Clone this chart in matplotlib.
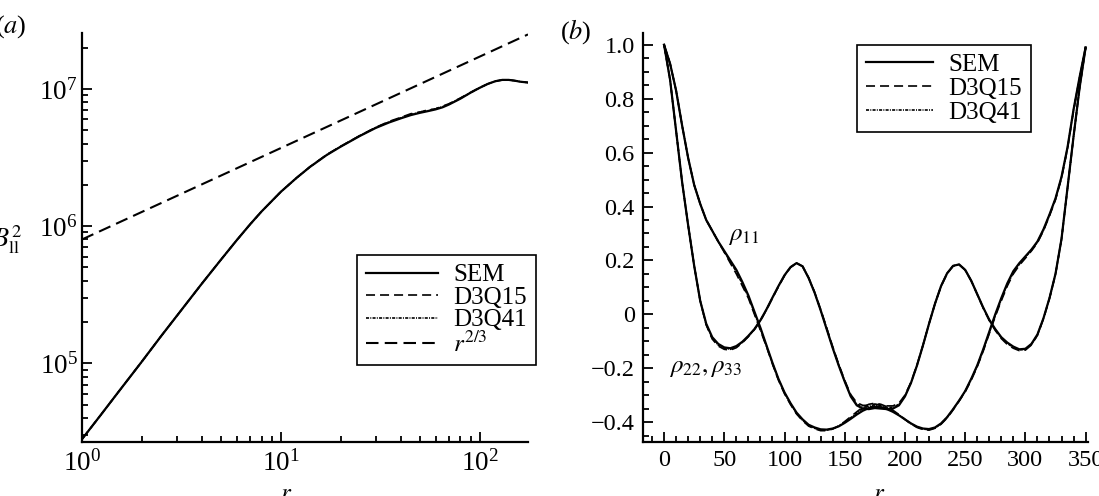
import matplotlib
matplotlib.use("Agg")
import matplotlib.pyplot as plt
from matplotlib.ticker import MultipleLocator, FixedLocator, FixedFormatter, NullFormatter, LogLocator

plt.rcParams['font.family'] = ['Liberation Serif', 'DejaVu Serif']
plt.rcParams['mathtext.fontset'] = 'stix'
plt.rcParams['lines.scale_dashes'] = False

# ---- panel (a): second-order structure function ----
r_a = [1, 1.25, 1.5, 2, 2.5, 3, 4, 5, 6, 7, 8, 10, 12, 14, 17, 20, 25, 30, 35, 40,
       45, 50, 55, 60, 65, 70, 80, 90, 100, 110, 120, 130, 140, 150, 160, 175]
sem_a = [2.8e4, 4.25e4, 6.0e4, 1.03e5, 1.58e5, 2.22e5, 3.8e5, 5.7e5, 7.9e5, 1.03e6,
         1.28e6, 1.78e6, 2.25e6, 2.7e6, 3.3e6, 3.8e6, 4.55e6, 5.2e6, 5.7e6, 6.1e6,
         6.45e6, 6.7e6, 6.9e6, 7.1e6, 7.35e6, 7.7e6, 8.5e6, 9.4e6, 1.02e7, 1.09e7,
         1.14e7, 1.165e7, 1.165e7, 1.15e7, 1.13e7, 1.115e7]
q15_a = [2.8e4, 4.25e4, 6.0e4, 1.03e5, 1.58e5, 2.22e5, 3.8e5, 5.7e5, 7.9e5, 1.03e6,
         1.28e6, 1.78e6, 2.25e6, 2.71e6, 3.32e6, 3.82e6, 4.58e6, 5.25e6, 5.8e6, 6.2e6,
         6.6e6, 6.78e6, 7.05e6, 7.15e6, 7.5e6, 7.8e6, 8.6e6, 9.45e6, 1.025e7, 1.09e7,
         1.14e7, 1.165e7, 1.165e7, 1.15e7, 1.13e7, 1.115e7]
q41_a = [2.8e4, 4.25e4, 6.0e4, 1.03e5, 1.58e5, 2.22e5, 3.8e5, 5.7e5, 7.9e5, 1.03e6,
         1.28e6, 1.78e6, 2.25e6, 2.7e6, 3.31e6, 3.81e6, 4.57e6, 5.23e6, 5.75e6, 6.15e6,
         6.5e6, 6.8e6, 6.95e6, 7.2e6, 7.42e6, 7.75e6, 8.55e6, 9.4e6, 1.02e7, 1.09e7,
         1.14e7, 1.165e7, 1.165e7, 1.15e7, 1.13e7, 1.115e7]
r_fit = [1, 175]
fit_a = [8.0e5, 2.5e7]

# ---- panel (b): correlation coefficients ----
r_b = list(range(0, 351, 5))
rho11_sem = [1.000, 0.93, 0.83, 0.70, 0.58, 0.48, 0.41, 0.35, 0.31, 0.27,
             0.235, 0.20, 0.165, 0.12, 0.07, 0.01, -0.05, -0.115, -0.18, -0.24,
             -0.29, -0.33, -0.365, -0.39, -0.41, -0.42, -0.427, -0.428, -0.424, -0.416,
             -0.403, -0.388, -0.372, -0.358, -0.348, -0.343, -0.345, -0.352, -0.362, -0.375,
             -0.39, -0.405, -0.417, -0.424, -0.426, -0.42, -0.405, -0.382, -0.352, -0.32,
             -0.285, -0.24, -0.19, -0.13, -0.065, 0.0, 0.06, 0.115, 0.16, 0.19,
             0.215, 0.24, 0.27, 0.315, 0.37, 0.43, 0.51, 0.62, 0.76, 0.88,
             0.99]
rho11_q15 = [1.000, 0.93, 0.83, 0.70, 0.58, 0.48, 0.41, 0.35, 0.31, 0.27,
             0.23, 0.19, 0.15, 0.105, 0.06, 0.0, -0.06, -0.12, -0.185, -0.245,
             -0.295, -0.335, -0.37, -0.395, -0.415, -0.425, -0.432, -0.432, -0.426, -0.414,
             -0.398, -0.38, -0.362, -0.345, -0.334, -0.33, -0.334, -0.343, -0.356, -0.372,
             -0.39, -0.407, -0.42, -0.428, -0.43, -0.423, -0.408, -0.385, -0.355, -0.322,
             -0.288, -0.245, -0.195, -0.137, -0.072, -0.008, 0.05, 0.105, 0.15, 0.182,
             0.208, 0.235, 0.265, 0.31, 0.365, 0.425, 0.505, 0.615, 0.755, 0.875,
             0.99]
rho11_q41 = [1.000, 0.93, 0.83, 0.70, 0.58, 0.48, 0.41, 0.35, 0.31, 0.27,
             0.232, 0.195, 0.158, 0.112, 0.065, 0.005, -0.055, -0.118, -0.182, -0.242,
             -0.292, -0.332, -0.368, -0.393, -0.413, -0.423, -0.43, -0.43, -0.425, -0.415,
             -0.4, -0.384, -0.366, -0.35, -0.34, -0.336, -0.34, -0.348, -0.36, -0.374,
             -0.39, -0.406, -0.418, -0.426, -0.428, -0.422, -0.406, -0.383, -0.353, -0.321,
             -0.286, -0.242, -0.192, -0.133, -0.068, -0.004, 0.055, 0.11, 0.155, 0.186,
             0.212, 0.238, 0.268, 0.312, 0.368, 0.428, 0.508, 0.618, 0.758, 0.878,
             0.99]
rho22_sem = [1.0, 0.87, 0.68, 0.49, 0.33, 0.18, 0.05, -0.035, -0.085, -0.11,
             -0.123, -0.126, -0.118, -0.102, -0.08, -0.055, -0.022, 0.018, 0.062, 0.105,
             0.145, 0.175, 0.19, 0.178, 0.135, 0.08, 0.015, -0.055, -0.125, -0.19,
             -0.25, -0.305, -0.338, -0.35, -0.352, -0.348, -0.35, -0.352, -0.35, -0.338,
             -0.305, -0.255, -0.19, -0.115, -0.035, 0.04, 0.105, 0.152, 0.18, 0.185,
             0.165, 0.125, 0.075, 0.025, -0.02, -0.055, -0.085, -0.105, -0.12, -0.13,
             -0.128, -0.11, -0.075, -0.015, 0.06, 0.15, 0.28, 0.47, 0.66, 0.84,
             0.99]
rho22_q15 = [1.0, 0.87, 0.68, 0.49, 0.33, 0.18, 0.05, -0.04, -0.092, -0.118,
             -0.13, -0.133, -0.124, -0.106, -0.083, -0.057, -0.024, 0.016, 0.06, 0.103,
             0.143, 0.174, 0.19, 0.178, 0.136, 0.082, 0.018, -0.05, -0.12, -0.185,
             -0.245, -0.298, -0.328, -0.338, -0.338, -0.333, -0.337, -0.34, -0.34, -0.33,
             -0.3, -0.252, -0.188, -0.114, -0.035, 0.04, 0.104, 0.151, 0.179, 0.184,
             0.164, 0.124, 0.074, 0.023, -0.023, -0.06, -0.09, -0.112, -0.126, -0.135,
             -0.133, -0.114, -0.078, -0.017, 0.058, 0.148, 0.278, 0.468, 0.658, 0.84,
             0.99]
rho22_q41 = [1.0, 0.87, 0.68, 0.49, 0.33, 0.18, 0.05, -0.038, -0.089, -0.115,
             -0.127, -0.13, -0.121, -0.104, -0.082, -0.056, -0.023, 0.017, 0.061, 0.104,
             0.144, 0.175, 0.19, 0.178, 0.135, 0.081, 0.016, -0.053, -0.123, -0.188,
             -0.248, -0.302, -0.333, -0.344, -0.345, -0.34, -0.343, -0.346, -0.345, -0.334,
             -0.303, -0.254, -0.19, -0.115, -0.035, 0.04, 0.105, 0.152, 0.18, 0.185,
             0.165, 0.125, 0.075, 0.024, -0.021, -0.057, -0.087, -0.108, -0.123, -0.132,
             -0.13, -0.112, -0.077, -0.016, 0.059, 0.149, 0.279, 0.469, 0.659, 0.84,
             0.99]

yticks_b = [1.0, 0.8, 0.6, 0.4, 0.2, 0, -0.2, -0.4]
yticklabels_b = ["1.0", "0.8", "0.6", "0.4", "0.2", "0", "\u22120.2", "\u22120.4"]
xticks_b = [0, 50, 100, 150, 200, 250, 300, 350]

W, H = 1099, 496
fig = plt.figure(figsize=(W / 100, H / 100), dpi=100)
ax1 = fig.add_axes([82 / W, 1 - 442 / H, 446 / W, 409 / H])
ax2 = fig.add_axes([643 / W, 1 - 442 / H, 445 / W, 409 / H])

fs = 18
dash15 = (0, (6.5, 3.6))
dash41 = (0, (2.2, 0.9, 0.7, 0.9))
dashfit = (0, (9, 4.5))

def style(ax, size):
    for s in ["top", "right"]:
        ax.spines[s].set_visible(False)
    for s in ["left", "bottom"]:
        ax.spines[s].set_linewidth(1.6)
    ax.tick_params(which="both", direction="in", labelsize=size, width=1.3,
                   top=False, right=False)
    ax.tick_params(which="major", length=7, pad=6)
    ax.tick_params(which="minor", length=4)

# panel (a)
ax1.plot(r_a, sem_a, color="k", lw=1.6, label="SEM")
ax1.plot(r_a, q15_a, color="k", lw=1.2, linestyle=dash15, label="D3Q15")
ax1.plot(r_a, q41_a, color="k", lw=1.2, linestyle=dash41, label="D3Q41")
ax1.plot(r_fit, fit_a, color="k", lw=1.5, linestyle=dashfit, label="$r^{2/3}$")
ax1.set_xscale("log")
ax1.set_yscale("log")
ax1.set_xlim(1, 175)
ax1.set_ylim(2.67e4, 2.56e7)
ax1.yaxis.set_minor_locator(LogLocator(base=10, subs=range(2, 10)))
ax1.xaxis.set_minor_formatter(NullFormatter())
ax1.yaxis.set_minor_formatter(NullFormatter())
style(ax1, 19.5)
ax1.tick_params(axis="y", which="major", pad=3)
ax1.set_xlabel("$r$", fontsize=fs)
ax1.xaxis.set_label_coords(0.457, -0.1)
leg1 = ax1.legend(loc="upper left", bbox_to_anchor=(0.617, 0.457), fontsize=fs,
                  frameon=True, fancybox=False, edgecolor="k", framealpha=1,
                  handlelength=2.9, handletextpad=0.6, labelspacing=0.0,
                  borderpad=0.35, borderaxespad=0)
leg1.get_frame().set_linewidth(1.2)
leg1.set_clip_on(False)

# panel (b)
ax2.plot(r_b, rho11_sem, color="k", lw=1.6, label="SEM")
ax2.plot(r_b, rho11_q15, color="k", lw=1.2, linestyle=dash15, label="D3Q15")
ax2.plot(r_b, rho11_q41, color="k", lw=1.2, linestyle=dash41, label="D3Q41")
ax2.plot(r_b, rho22_sem, color="k", lw=1.6)
ax2.plot(r_b, rho22_q15, color="k", lw=1.2, linestyle=dash15)
ax2.plot(r_b, rho22_q41, color="k", lw=1.2, linestyle=dash41)
ax2.set_xlim(-17.5, 352)
ax2.set_ylim(-0.474, 1.044)
ax2.yaxis.set_major_locator(FixedLocator(yticks_b))
ax2.yaxis.set_major_formatter(FixedFormatter(yticklabels_b))
ax2.yaxis.set_minor_locator(MultipleLocator(0.05))
ax2.xaxis.set_major_locator(FixedLocator(xticks_b))
ax2.xaxis.set_minor_locator(MultipleLocator(10))
style(ax2, 17.5)
ax2.set_xlabel("$r$", fontsize=fs)
ax2.xaxis.set_label_coords(0.53, -0.1)
ax2.text(53, 0.29, r"$\rho_{11}$", fontsize=fs, ha="left", va="center")
ax2.text(4, -0.2, r"$\rho_{22}, \rho_{33}$", fontsize=fs, ha="left", va="center")
leg2 = ax2.legend(loc="upper left", bbox_to_anchor=(0.481, 0.971), fontsize=fs,
                  frameon=True, fancybox=False, edgecolor="k", framealpha=1,
                  handlelength=2.7, handletextpad=0.6, labelspacing=0.05,
                  borderpad=0.35, borderaxespad=0)
leg2.get_frame().set_linewidth(1.2)

fig.text(27 / W, 1 - 27 / H, "($a$)", fontsize=19, ha="right", va="center")
fig.text(560 / W, 1 - 32 / H, "($b$)", fontsize=19, ha="left", va="center")
fig.text(-8 / W, 1 - 240 / H, r"$B^2_{\mathrm{ll}}$", fontsize=19, ha="left", va="center")

fig.savefig("out.png", dpi=100)
